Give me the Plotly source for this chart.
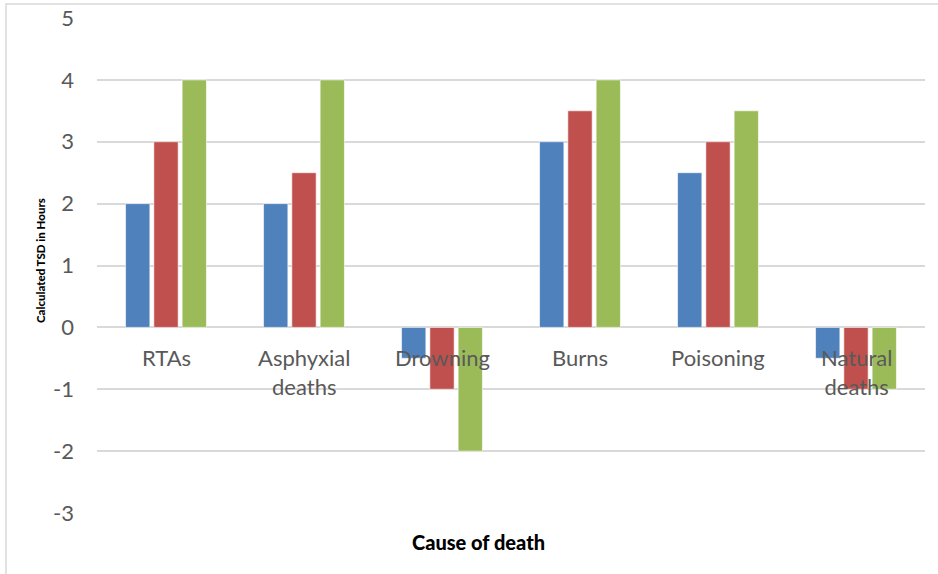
import plotly.graph_objects as go

# Cause-of-death categories and the three TSD estimate series (hours)
categories = ["RTAs", "Asphyxial deaths", "Drowning", "Burns", "Poisoning", "Natural deaths"]
category_labels = ["RTAs", "Asphyxial<br>deaths", "Drowning", "Burns", "Poisoning", "Natural<br>deaths"]
series_a = [2, 2, -0.5, 3, 2.5, -0.5]
series_b = [3, 2.5, -1, 3.5, 3, -1]
series_c = [4, 4, -2, 4, 3.5, -1]
y_ticks = [-3, -2, -1, 0, 1, 2, 3, 4, 5]
y_tick_text = [str(v) for v in y_ticks]

colors = ["#4F81BD", "#C0504D", "#9BBB59"]
label_font = dict(family="Lato, Liberation Sans, sans-serif", size=22, color="#595959")
title_family = "Lato, Liberation Sans, sans-serif"

# Plot area in pixels
L, R, T, B = 97, 925, 18, 513
W, H = R - L, B - T

fig = go.Figure()
for vals, col in zip([series_a, series_b, series_c], colors):
    fig.add_trace(go.Bar(
        x=categories, y=vals,
        marker=dict(color=col, line=dict(color="rgba(255,255,255,0.6)", width=1)),
        showlegend=False,
    ))

# Category names sit just below the zero line, overlapping the bars
for cat, lab in zip(categories, category_labels):
    fig.add_annotation(
        x=cat, y=0, xref="x", yref="y", text=lab, showarrow=False,
        yanchor="top", yshift=-15, font=label_font, align="center",
    )

# Axis titles
fig.add_annotation(
    x=(40 - L) / W, y=(B - 261) / H, xref="paper", yref="paper",
    xanchor="center", yanchor="middle",
    text="Calculated TSD in Hours", textangle=-90, showarrow=False,
    font=dict(family=title_family, size=11.5, color="#000000", weight=900),
)
fig.add_annotation(
    x=(478 - L) / W, y=(B - 542) / H, xref="paper", yref="paper",
    xanchor="center", yanchor="middle",
    text="Cause of death", showarrow=False,
    font=dict(family=title_family, size=20, color="#000000", weight=900),
)

# Chart outer frame
fig.add_shape(
    type="rect", xref="paper", yref="paper",
    x0=(6 - L) / W, x1=(945 - L) / W,
    y0=(B - 580) / H, y1=(B - 4) / H,
    line=dict(color="#D9D9D9", width=1.5), fillcolor="rgba(0,0,0,0)", layer="below",
)

fig.update_layout(
    width=938, height=574,
    margin=dict(l=L, r=938 - R, t=T, b=574 - B, autoexpand=False),
    paper_bgcolor="white", plot_bgcolor="white",
    barmode="group", bargap=0.385, bargroupgap=0.14,
    xaxis=dict(showticklabels=False, showgrid=False, showline=False, zeroline=False,
               ticks="", automargin=False),
    yaxis=dict(
        range=[-3, 5], tickvals=y_ticks, ticktext=y_tick_text,
        showgrid=True, gridcolor="#D9D9D9", gridwidth=1.5,
        zeroline=True, zerolinecolor="#D9D9D9", zerolinewidth=1.5,
        showline=False, ticks="", tickfont=label_font, ticklabelstandoff=22,
        automargin=False,
    ),
)

fig.write_html("out.html")
